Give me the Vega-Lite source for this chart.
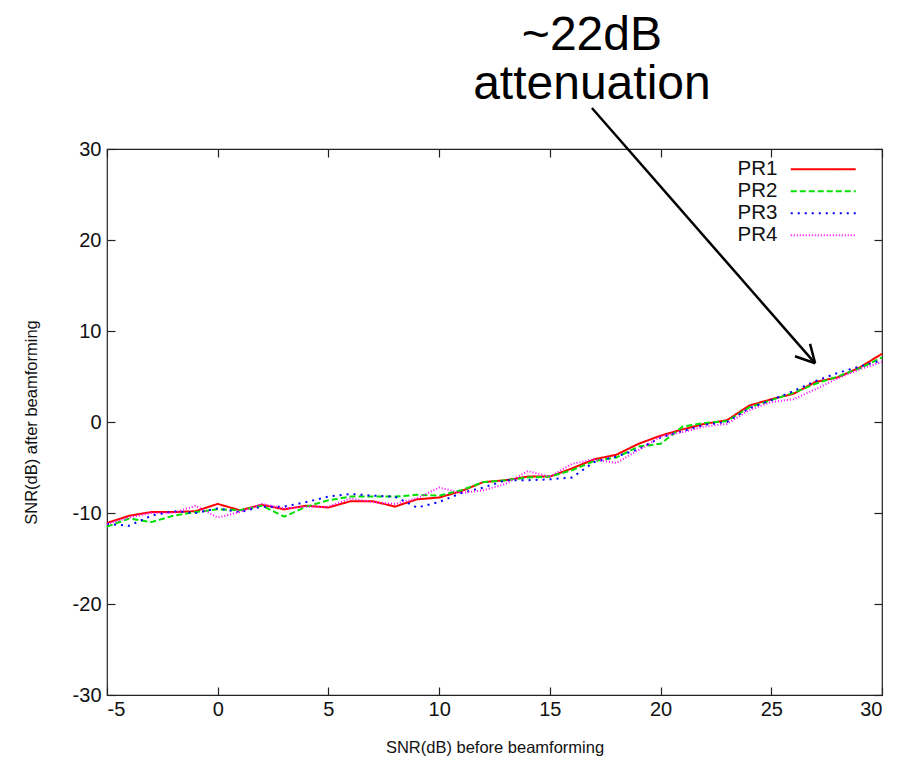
{
  "$schema": "https://vega.github.io/schema/vega-lite/v6.json",
  "autosize": "none",
  "width": 775,
  "height": 546,
  "padding": {"left": 107, "top": 149, "right": 30, "bottom": 70},
  "background": "white",
  "config": {
    "font": "Liberation Sans",
    "view": {"stroke": "#222222", "strokeWidth": 1.2},
    "axis": {"grid": false, "labelFont": "Liberation Sans", "labelFontSize": 20, "labelColor": "#111111", "titleFont": "Liberation Sans", "titleFontSize": 16.5, "titleFontWeight": "normal", "titleColor": "#111111", "domain": false, "tickColor": "#222222", "tickSize": -8, "tickWidth": 1.2, "labelExpr": "toString(datum.value)"}
  },
  "datasets": {
    "lines": [
      {"x": -5, "y": -11.1, "s": "PR1"}, {"x": -4, "y": -10.3, "s": "PR1"}, {"x": -3, "y": -9.9, "s": "PR1"}, {"x": -2, "y": -9.9, "s": "PR1"}, {"x": -1, "y": -9.8, "s": "PR1"}, {"x": 0, "y": -9.0, "s": "PR1"}, {"x": 1, "y": -9.7, "s": "PR1"}, {"x": 2, "y": -9.1, "s": "PR1"}, {"x": 3, "y": -9.6, "s": "PR1"}, {"x": 4, "y": -9.2, "s": "PR1"}, {"x": 5, "y": -9.4, "s": "PR1"}, {"x": 6, "y": -8.7, "s": "PR1"}, {"x": 7, "y": -8.7, "s": "PR1"}, {"x": 8, "y": -9.3, "s": "PR1"}, {"x": 9, "y": -8.5, "s": "PR1"}, {"x": 10, "y": -8.3, "s": "PR1"}, {"x": 11, "y": -7.6, "s": "PR1"}, {"x": 12, "y": -6.6, "s": "PR1"}, {"x": 13, "y": -6.4, "s": "PR1"}, {"x": 14, "y": -6.0, "s": "PR1"}, {"x": 15, "y": -6.0, "s": "PR1"}, {"x": 16, "y": -5.1, "s": "PR1"}, {"x": 17, "y": -4.1, "s": "PR1"}, {"x": 18, "y": -3.6, "s": "PR1"}, {"x": 19, "y": -2.4, "s": "PR1"}, {"x": 20, "y": -1.5, "s": "PR1"}, {"x": 21, "y": -0.8, "s": "PR1"}, {"x": 22, "y": -0.2, "s": "PR1"}, {"x": 23, "y": 0.2, "s": "PR1"}, {"x": 24, "y": 1.8, "s": "PR1"}, {"x": 25, "y": 2.5, "s": "PR1"}, {"x": 26, "y": 3.1, "s": "PR1"}, {"x": 27, "y": 4.4, "s": "PR1"}, {"x": 28, "y": 4.9, "s": "PR1"}, {"x": 29, "y": 6.0, "s": "PR1"}, {"x": 30, "y": 7.5, "s": "PR1"},
      {"x": -5, "y": -11.5, "s": "PR2"}, {"x": -4, "y": -10.6, "s": "PR2"}, {"x": -3, "y": -11.0, "s": "PR2"}, {"x": -2, "y": -10.3, "s": "PR2"}, {"x": -1, "y": -9.9, "s": "PR2"}, {"x": 0, "y": -9.6, "s": "PR2"}, {"x": 1, "y": -9.7, "s": "PR2"}, {"x": 2, "y": -9.2, "s": "PR2"}, {"x": 3, "y": -10.4, "s": "PR2"}, {"x": 4, "y": -9.3, "s": "PR2"}, {"x": 5, "y": -8.6, "s": "PR2"}, {"x": 6, "y": -8.2, "s": "PR2"}, {"x": 7, "y": -8.2, "s": "PR2"}, {"x": 8, "y": -8.2, "s": "PR2"}, {"x": 9, "y": -8.0, "s": "PR2"}, {"x": 10, "y": -8.1, "s": "PR2"}, {"x": 11, "y": -7.5, "s": "PR2"}, {"x": 12, "y": -6.6, "s": "PR2"}, {"x": 13, "y": -6.4, "s": "PR2"}, {"x": 14, "y": -6.1, "s": "PR2"}, {"x": 15, "y": -6.0, "s": "PR2"}, {"x": 16, "y": -5.3, "s": "PR2"}, {"x": 17, "y": -4.3, "s": "PR2"}, {"x": 18, "y": -3.9, "s": "PR2"}, {"x": 19, "y": -2.7, "s": "PR2"}, {"x": 20, "y": -2.4, "s": "PR2"}, {"x": 21, "y": -0.5, "s": "PR2"}, {"x": 22, "y": -0.1, "s": "PR2"}, {"x": 23, "y": 0.1, "s": "PR2"}, {"x": 24, "y": 1.6, "s": "PR2"}, {"x": 25, "y": 2.4, "s": "PR2"}, {"x": 26, "y": 3.2, "s": "PR2"}, {"x": 27, "y": 4.2, "s": "PR2"}, {"x": 28, "y": 5.0, "s": "PR2"}, {"x": 29, "y": 5.9, "s": "PR2"}, {"x": 30, "y": 7.1, "s": "PR2"},
      {"x": -5, "y": -11.2, "s": "PR3"}, {"x": -4, "y": -11.4, "s": "PR3"}, {"x": -3, "y": -10.3, "s": "PR3"}, {"x": -2, "y": -9.8, "s": "PR3"}, {"x": -1, "y": -10.0, "s": "PR3"}, {"x": 0, "y": -9.5, "s": "PR3"}, {"x": 1, "y": -9.9, "s": "PR3"}, {"x": 2, "y": -9.3, "s": "PR3"}, {"x": 3, "y": -9.3, "s": "PR3"}, {"x": 4, "y": -8.8, "s": "PR3"}, {"x": 5, "y": -8.2, "s": "PR3"}, {"x": 6, "y": -7.9, "s": "PR3"}, {"x": 7, "y": -8.1, "s": "PR3"}, {"x": 8, "y": -8.2, "s": "PR3"}, {"x": 9, "y": -9.4, "s": "PR3"}, {"x": 10, "y": -8.8, "s": "PR3"}, {"x": 11, "y": -7.8, "s": "PR3"}, {"x": 12, "y": -7.2, "s": "PR3"}, {"x": 13, "y": -6.4, "s": "PR3"}, {"x": 14, "y": -6.4, "s": "PR3"}, {"x": 15, "y": -6.3, "s": "PR3"}, {"x": 16, "y": -6.1, "s": "PR3"}, {"x": 17, "y": -4.4, "s": "PR3"}, {"x": 18, "y": -3.8, "s": "PR3"}, {"x": 19, "y": -3.0, "s": "PR3"}, {"x": 20, "y": -1.7, "s": "PR3"}, {"x": 21, "y": -1.0, "s": "PR3"}, {"x": 22, "y": -0.3, "s": "PR3"}, {"x": 23, "y": 0.0, "s": "PR3"}, {"x": 24, "y": 1.5, "s": "PR3"}, {"x": 25, "y": 2.4, "s": "PR3"}, {"x": 26, "y": 3.4, "s": "PR3"}, {"x": 27, "y": 4.5, "s": "PR3"}, {"x": 28, "y": 5.4, "s": "PR3"}, {"x": 29, "y": 6.1, "s": "PR3"}, {"x": 30, "y": 6.8, "s": "PR3"},
      {"x": -5, "y": -11.2, "s": "PR4"}, {"x": -4, "y": -10.5, "s": "PR4"}, {"x": -3, "y": -10.0, "s": "PR4"}, {"x": -2, "y": -10.0, "s": "PR4"}, {"x": -1, "y": -9.2, "s": "PR4"}, {"x": 0, "y": -10.5, "s": "PR4"}, {"x": 1, "y": -9.9, "s": "PR4"}, {"x": 2, "y": -9.0, "s": "PR4"}, {"x": 3, "y": -9.5, "s": "PR4"}, {"x": 4, "y": -9.3, "s": "PR4"}, {"x": 5, "y": -9.3, "s": "PR4"}, {"x": 6, "y": -8.4, "s": "PR4"}, {"x": 7, "y": -8.8, "s": "PR4"}, {"x": 8, "y": -9.0, "s": "PR4"}, {"x": 9, "y": -8.4, "s": "PR4"}, {"x": 10, "y": -7.2, "s": "PR4"}, {"x": 11, "y": -7.8, "s": "PR4"}, {"x": 12, "y": -7.5, "s": "PR4"}, {"x": 13, "y": -6.8, "s": "PR4"}, {"x": 14, "y": -5.4, "s": "PR4"}, {"x": 15, "y": -6.0, "s": "PR4"}, {"x": 16, "y": -4.6, "s": "PR4"}, {"x": 17, "y": -4.1, "s": "PR4"}, {"x": 18, "y": -4.5, "s": "PR4"}, {"x": 19, "y": -3.1, "s": "PR4"}, {"x": 20, "y": -1.6, "s": "PR4"}, {"x": 21, "y": -1.1, "s": "PR4"}, {"x": 22, "y": -0.5, "s": "PR4"}, {"x": 23, "y": -0.2, "s": "PR4"}, {"x": 24, "y": 1.3, "s": "PR4"}, {"x": 25, "y": 2.2, "s": "PR4"}, {"x": 26, "y": 2.5, "s": "PR4"}, {"x": 27, "y": 3.6, "s": "PR4"}, {"x": 28, "y": 4.8, "s": "PR4"}, {"x": 29, "y": 5.8, "s": "PR4"}, {"x": 30, "y": 6.6, "s": "PR4"}
    ],
    "arrow": [
      {"x": 16.9, "y": 34.5, "x2": 26.98, "y2": 6.45},
      {"x": 26.07, "y": 7.22, "x2": 26.98, "y2": 6.45},
      {"x": 26.75, "y": 8.59, "x2": 26.98, "y2": 6.45}
    ],
    "label": [
      {"x": 16.9, "y": 42.4, "t": "~22dB"},
      {"x": 16.9, "y": 37.0, "t": "attenuation"}
    ]
  },
  "layer": [
    {
      "data": {"name": "lines"},
      "mark": {"type": "line", "strokeWidth": 2},
      "encoding": {
        "x": {"field": "x", "type": "quantitative", "scale": {"domain": [-5, 30], "nice": false, "zero": false}, "axis": {"orient": "bottom", "values": [-5, 0, 5, 10, 15, 20, 25, 30], "title": "SNR(dB) before beamforming", "labelPadding": 12, "titlePadding": 20}},
        "y": {"field": "y", "type": "quantitative", "scale": {"domain": [-30, 30], "nice": false, "zero": false}, "axis": {"orient": "left", "values": [-30, -20, -10, 0, 10, 20, 30], "title": "SNR(dB) after beamforming", "labelPadding": 14, "titlePadding": 33}},
        "color": {"field": "s", "type": "nominal", "title": null, "scale": {"domain": ["PR1", "PR2", "PR3", "PR4"], "range": ["#ff0000", "#00e000", "#0000ff", "#ff00ff"]},
          "legend": {"orient": "none", "legendX": 706, "legendY": 10, "symbolType": "M-4,0H4", "symbolSize": 264, "symbolStrokeWidth": 2, "labelFontSize": 20.5, "labelFont": "Liberation Sans", "labelColor": "#111111", "labelAlign": "right", "labelOffset": -56, "rowPadding": 1, "padding": 0}},
        "strokeDash": {"field": "s", "type": "nominal", "title": null, "scale": {"domain": ["PR1", "PR2", "PR3", "PR4"], "range": [[1, 0], [6, 3], [2, 5], [1, 2]]}}
      }
    },
    {
      "data": {"name": "arrow"},
      "mark": {"type": "rule", "strokeWidth": 2.5, "color": "black", "clip": false},
      "encoding": {
        "x": {"field": "x", "type": "quantitative", "axis": {"orient": "top", "values": [-5, 0, 5, 10, 15, 20, 25, 30], "labels": false, "title": null}},
        "y": {"field": "y", "type": "quantitative", "axis": {"orient": "right", "values": [-30, -20, -10, 0, 10, 20, 30], "labels": false, "title": null}},
        "x2": {"field": "x2"},
        "y2": {"field": "y2"}
      }
    },
    {
      "data": {"name": "label"},
      "mark": {"type": "text", "fontSize": 48, "font": "Liberation Sans", "color": "black", "align": "center", "baseline": "middle", "clip": false},
      "encoding": {
        "x": {"field": "x", "type": "quantitative", "axis": null},
        "y": {"field": "y", "type": "quantitative", "axis": null},
        "text": {"field": "t"}
      }
    }
  ],
  "resolve": {"axis": {"x": "independent", "y": "independent"}}
}
